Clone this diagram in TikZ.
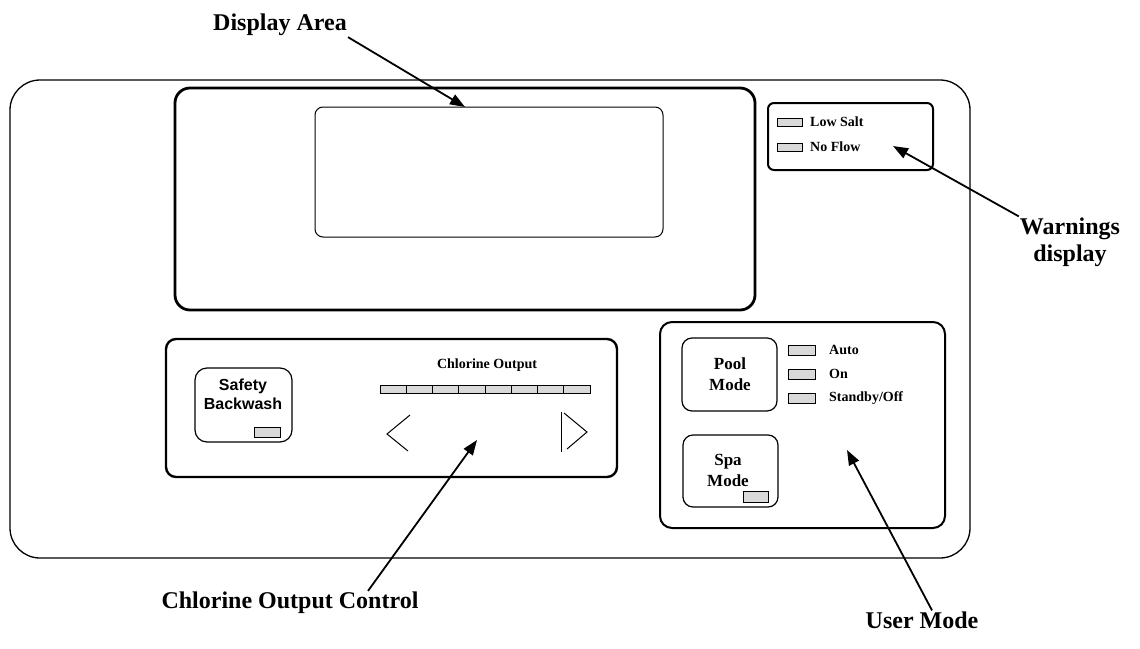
\documentclass[tikz,border=0pt]{standalone}
\usepackage{fontspec}
\setmainfont{Liberation Serif}
\newfontfamily\keyfont{Liberation Sans}
\usetikzlibrary{arrows.meta}

\begin{document}
\begin{tikzpicture}[x=1pt,y=-1pt,
	led/.style={draw,fill=gray!30,line width=0.8pt},
	pointer/.style={-{Triangle[length=15pt,width=11pt]},line width=1.8pt},
	callout/.style={font=\bfseries\fontsize{24}{27}\selectfont,inner sep=1pt,align=center},
	ledtext/.style={font=\bfseries\fontsize{14}{16}\selectfont,inner sep=0pt,anchor=west}]
			\useasboundingbox (0,0) rectangle (1140,648);
			% housing
			\draw[line width=1.3pt,rounded corners=30] (10,80) rectangle (970,558);
			% display area
			\draw[line width=2.8pt,rounded corners=15] (175,88) rectangle (755,310);
			\draw[line width=1pt,rounded corners=8] (315,107) rectangle (663,237);
			% warnings
			\draw[line width=2pt,rounded corners=6] (768,103) rectangle (933,170);
			\draw[led] (777,118) rectangle (802,126);
			\draw[led] (777,143) rectangle (802,151);
			\node[ledtext] (salt) at (810,122) {Low Salt};
			\node[ledtext] (flow) at (810,147) {No Flow};
			% chlorine output panel
			\draw[line width=2.4pt,rounded corners=10] (166,339) rectangle (617,477);
			\draw[line width=1.2pt,rounded corners=12] (195,368) rectangle (292,442);
			\node[font=\keyfont\bfseries\fontsize{16}{19}\selectfont,align=center] (backwash) at (243,394) {Safety\\Backwash};
			\draw[led] (254,427) rectangle (280,437);
			\node[font=\bfseries\fontsize{14}{16}\selectfont] (outlabel) at (487,365) {Chlorine Output};
			\foreach \i in {0,...,7}
				\draw[led] ({380+26.25*\i},385) rectangle ++(26.25,8);
			\draw[line width=1pt] (410,415) -- (387,434) -- (408,451);
			\draw[line width=1pt] (561,412) -- (561,452);
			\draw[line width=1pt] (564,413) -- (587,432) -- (567,449);
			% user mode panel
			\draw[line width=2pt,rounded corners=12] (660,322) rectangle (945,528);
			\draw[line width=1.2pt,rounded corners=10] (682,338) rectangle (777,411);
			\node[font=\bfseries\fontsize{17}{21}\selectfont,align=center] (pool) at (730,374) {Pool\\Mode};
			\draw[line width=1.2pt,rounded corners=10] (683,435) rectangle (778,507);
			\node[font=\bfseries\fontsize{17}{21}\selectfont,align=center] (spa) at (728,470) {Spa\\Mode};
			\draw[led] (743,491) rectangle (768,502);
			\foreach \y/\t in {350/Auto,374/On,398/{Standby/Off}}{
				\draw[led] (788,\y-5) rectangle (815,\y+5);
				\node[ledtext] at (829,\y) {\t};
			}
			% callouts
			\node[callout] (dlabel) at (280,25) {Display Area};
			\node[callout] (warn) at (1070,242) {Warnings\\display};
			\node[callout] (ctrl) at (290,603) {Chlorine Output Control};
			\node[callout] (umode) at (922,620) {User Mode};
			\coordinate (dtip) at (465,107);
			\coordinate (wtip) at (893,146);
			\coordinate (ctip) at (477,440);
			\coordinate (utip) at (847,450);
			\coordinate (ctail) at ([xshift=78]ctrl.north);
			\draw[pointer] (dlabel.south east) -- (dtip);
			\draw[pointer] (warn.north west) -- (wtip);
			\draw[pointer] (ctail) -- (ctip);
			\draw[pointer] ([xshift=10]umode.north) -- (utip);
		\end{tikzpicture}
\end{document}
